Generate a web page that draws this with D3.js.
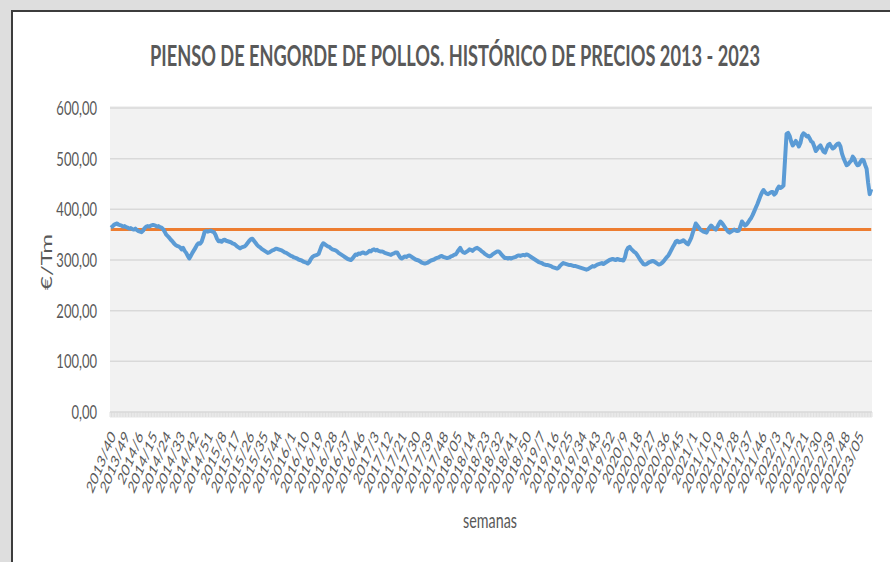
<!DOCTYPE html>
<html>
<head>
<meta charset="utf-8">
<script src="https://cdnjs.cloudflare.com/ajax/libs/d3/7.8.5/d3.min.js"></script>
<style>
body { margin: 0; background: #dedede; }
svg { display: block; }
text { font-family: Lato, "Open Sans", sans-serif; }
</style>
</head>
<body>
<script>

var width = 890;
var height = 562;

// precio semanal (€/Tm) desde 2013/40
var precios = [
    364,366,369,371,372,370,369,368,366,367,
    365,364,362,363,361,360,362,359,357,356,
    355,358,363,366,367,366,368,369,369,368,
    366,367,365,364,361,356,350,347,344,340,
    337,333,330,328,327,325,321,324,318,314,
    308,303,308,314,319,324,330,333,332,336,
    345,356,357,356,357,358,356,355,350,342,
    337,338,336,339,340,338,337,336,335,333,
    332,330,327,325,323,325,326,327,330,334,
    338,341,342,338,334,330,327,325,322,320,
    318,316,314,315,317,319,320,322,322,321,
    320,319,317,315,314,312,310,308,307,305,
    304,303,301,300,299,297,296,295,293,296,
    302,306,308,309,310,312,320,328,333,331,
    329,327,326,323,321,320,319,317,314,312,
    310,308,306,304,302,301,300,303,307,311,
    310,313,312,314,315,313,313,315,318,317,
    320,321,319,320,318,317,317,316,314,313,
    312,311,310,312,313,315,315,310,305,303,
    305,307,306,308,309,307,305,303,301,300,
    299,297,295,294,293,294,295,297,299,300,
    301,303,304,305,307,308,306,305,304,304,
    305,307,308,310,311,315,320,324,318,315,
    314,316,318,321,320,318,321,323,324,322,
    320,317,315,312,310,308,307,308,311,313,
    315,317,317,314,310,307,304,304,303,304,
    303,304,305,306,308,309,308,309,310,309,
    311,310,308,306,304,302,300,298,296,295,
    294,292,291,290,290,289,288,286,285,284,
    283,285,289,292,294,293,292,291,290,290,
    289,288,288,287,286,285,284,283,282,281,
    282,284,286,288,287,289,291,292,293,294,
    292,294,296,298,300,301,302,301,300,302,
    301,300,300,299,305,318,324,326,322,319,
    316,314,310,305,300,296,292,291,292,294,
    296,297,298,297,295,293,291,292,294,297,
    301,305,308,313,319,325,330,336,338,335,
    336,337,339,336,333,331,337,343,353,362,
    372,368,364,360,358,356,355,354,360,364,
    368,365,362,360,365,371,376,373,369,364,
    360,356,354,356,358,360,358,357,358,366,
    376,372,368,370,374,379,383,389,396,403,
    410,418,426,433,438,434,431,430,432,434,
    434,429,432,440,445,442,444,447,498,549,
    551,545,534,526,530,535,530,524,531,545,
    550,548,544,545,540,534,532,524,515,519,
    523,526,520,514,512,520,527,529,524,520,
    522,526,529,530,524,510,501,494,487,489,
    493,496,504,500,492,487,488,494,498,497,
    488,480,452,430,440
];

var media = 360;

// etiquetas de semana (2020 tiene 53 semanas; 2018 y 2023 vienen con cero)
var semanas = [];
var anio = 2013, sem = 40;
for (var i = 0; i < precios.length; i++) {
    var s = (anio == 2018 || anio == 2023) && sem < 10 ? "0" + sem : "" + sem;
    semanas.push(anio + "/" + s);
    sem++;
    if (sem > (anio == 2020 ? 53 : 52)) { sem = 1; anio++; }
}

var squish = 0.65;
var gris = "#595959";

var svg = d3.select("body")
    .append("svg")
    .attr("width", width)
    .attr("height", height);

svg.append("rect")
    .attr("x", 12).attr("y", 11)
    .attr("width", width).attr("height", height)
    .attr("fill", "#fff")
    .attr("stroke", "#3c3c3c")
    .attr("stroke-width", 2);

var pLeft = 110, pRight = 872, pTop = 108, pBottom = 412;

var x = d3.scaleBand()
    .domain(d3.range(precios.length))
    .range([pLeft, pRight]);

var y = d3.scaleLinear()
    .domain([0, 600])
    .range([pBottom, pTop]);

var cx = function(i) { return x(i) + x.bandwidth() / 2; };

// fondo del area de trazado
svg.append("rect")
    .attr("x", pLeft).attr("y", pTop - 2)
    .attr("width", pRight - pLeft).attr("height", pBottom - pTop + 8)
    .attr("fill", "#f2f2f2");

// rejilla
svg.append("g")
    .selectAll("line")
    .data(d3.range(0, 601, 100))
    .enter().append("line")
    .attr("x1", pLeft).attr("x2", pRight)
    .attr("y1", function(d) { return y(d); })
    .attr("y2", function(d) { return y(d); })
    .attr("stroke", "#d9d9d9")
    .attr("stroke-width", 1.5);

// marcas de categoria
svg.append("g")
    .selectAll("line")
    .data(d3.range(precios.length + 1))
    .enter().append("line")
    .attr("x1", function(d) { return pLeft + d * x.step(); })
    .attr("x2", function(d) { return pLeft + d * x.step(); })
    .attr("y1", pBottom).attr("y2", pBottom + 5)
    .attr("stroke", "#d9d9d9")
    .attr("stroke-width", 0.8);

// eje y
var loc = d3.formatLocale({decimal: ",", thousands: ".", grouping: [3], currency: ["", "€"]});
var yAxis = svg.append("g")
    .attr("transform", "translate(" + pLeft + ",0)")
    .call(d3.axisLeft(y).tickValues(d3.range(0, 601, 100)).tickSize(0).tickFormat(loc.format(".2f")));
yAxis.select(".domain").remove();
yAxis.selectAll("text")
    .attr("font-family", "Lato, sans-serif")
    .attr("font-size", 20)
    .attr("fill", gris)
    .attr("x", -13 / squish)
    .attr("transform", "scale(" + squish + ",1)");

// etiquetas eje x
svg.append("g")
    .selectAll("text")
    .data(d3.range(0, precios.length, 9))
    .enter().append("text")
    .attr("transform", function(d) { return "translate(" + (cx(d) + 2) + ",433) scale(" + squish + ",1) rotate(-58)"; })
    .attr("text-anchor", "end")
    .attr("dy", "0.35em")
    .attr("font-size", 17.5)
    .attr("fill", gris)
    .text(function(d) { return semanas[d]; });

// media
svg.append("path")
    .datum(precios.map(function() { return media; }))
    .attr("fill", "none")
    .attr("stroke", "#ed7d31")
    .attr("stroke-width", 3)
    .attr("d", d3.line().x(function(d, i) { return cx(i); }).y(function(d) { return y(d); }));

// precio
svg.append("path")
    .datum(precios)
    .attr("fill", "none")
    .attr("stroke", "#5b9bd5")
    .attr("stroke-width", 4)
    .attr("stroke-linejoin", "round")
    .attr("d", d3.line().x(function(d, i) { return cx(i); }).y(function(d) { return y(d); }));

// titulos
svg.append("text")
    .attr("transform", "translate(455,66) scale(0.6,1)")
    .attr("text-anchor", "middle")
    .attr("font-size", 28)
    .attr("font-weight", "bold")
    .attr("fill", gris)
    .attr("textLength", 610 / 0.6)
    .attr("lengthAdjust", "spacingAndGlyphs")
    .text("PIENSO DE ENGORDE DE POLLOS. HISTÓRICO DE PRECIOS 2013 - 2023");

svg.append("text")
    .attr("transform", "translate(490,528) scale(" + squish + ",1)")
    .attr("text-anchor", "middle")
    .attr("font-size", 22)
    .attr("fill", gris)
    .text("semanas");

svg.append("text")
    .attr("transform", "translate(52,262) scale(" + squish + ",1) rotate(-90)")
    .attr("text-anchor", "middle")
    .attr("font-size", 24)
    .attr("fill", gris)
    .text("€/Tm");

</script>
</body>
</html>
